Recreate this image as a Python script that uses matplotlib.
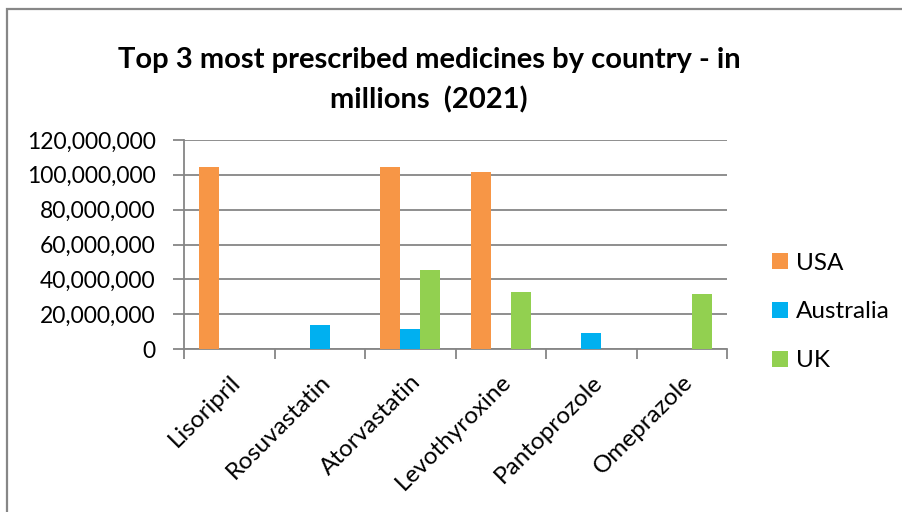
import matplotlib
matplotlib.use("Agg")
import matplotlib.pyplot as plt
import numpy as np
from matplotlib.patches import Rectangle
from matplotlib.ticker import FuncFormatter, MultipleLocator

medicines = ["Lisoripril", "Rosuvastatin", "Atorvastatin", "Levothyroxine",
             "Pantoprozole", "Omeprazole"]
usa = [104500000, 0, 104500000, 101600000, 0, 0]
australia = [0, 14000000, 11500000, 0, 9400000, 0]
uk = [0, 0, 45500000, 32600000, 0, 31700000]
series_names = ["USA", "Australia", "UK"]
series_colors = ["#F79646", "#00B0F0", "#92D050"]

plt.rcParams["font.family"] = ["Lato", "DejaVu Sans"]

fig = plt.figure(figsize=(9.02, 5.12), dpi=100)
fig.patch.set_facecolor("white")

# outer chart frame
fig.patches.append(Rectangle((7.5 / 902, -0.1), 1.2, (512 - 8.5) / 512 + 0.1,
                             transform=fig.transFigure, fill=False,
                             edgecolor="#878787", linewidth=1.6))

ax = fig.add_axes([184 / 902, 1 - 349 / 512, (727 - 184) / 902, (349 - 140) / 512])

x = np.arange(len(medicines))
w = 0.221
for i, (vals, name, col) in enumerate(zip([usa, australia, uk], series_names, series_colors)):
    ax.bar(x + (i - 1) * w, vals, width=w, color=col, label=name, zorder=3)

ax.set_xlim(-0.5, len(medicines) - 0.5)
ax.set_ylim(0, 120000000)
ax.yaxis.set_major_locator(MultipleLocator(20000000))
ax.yaxis.set_major_formatter(FuncFormatter(lambda v, p: f"{int(v):,}"))
ax.grid(axis="y", color="#868686", linewidth=1.3, zorder=0)

for s in ["top", "right"]:
    ax.spines[s].set_visible(False)
for s in ["left", "bottom"]:
    ax.spines[s].set_color("#868686")
    ax.spines[s].set_linewidth(1.3)

ax.tick_params(axis="y", length=8, width=1.3, color="#868686", labelsize=16.5, pad=12.5)
ax.set_xticks(x)
ax.set_xticklabels(medicines, rotation=45, ha="right", rotation_mode="anchor", fontsize=17.5)
ax.tick_params(axis="x", length=0, pad=16)
ax.set_xticks(np.arange(-0.5, len(medicines)), minor=True)
ax.tick_params(axis="x", which="minor", length=7, width=1.3, color="#868686")

fig.text(429 / 902, 1 - 80 / 512, "Top 3 most prescribed medicines by country - in\nmillions  (2021)",
         ha="center", va="center", fontsize=21, fontweight="bold", linespacing=1.6)

leg = fig.legend(loc="center left", bbox_to_anchor=(750 / 902, 1 - 312 / 512),
                 frameon=False, fontsize=17.5, handlelength=0.65, handleheight=0.65,
                 handletextpad=0.35, labelspacing=1.15)

fig.savefig("out.png", dpi=100, facecolor="white")
